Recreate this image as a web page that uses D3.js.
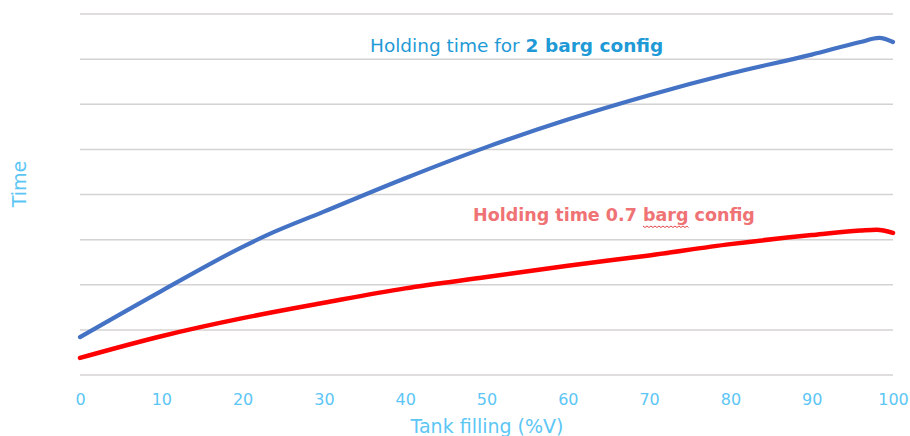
<!DOCTYPE html>
<html>
<head>
<meta charset="utf-8">
<script src="https://cdn.jsdelivr.net/npm/d3@7"></script>
<style>
  html, body { margin: 0; padding: 0; background: #fff; }
  svg { display: block; font-family: "DejaVu Sans", sans-serif; }
</style>
</head>
<body>
<svg id="chart" width="910" height="436"></svg>
<script>
// Holding time vs. tank filling for the two pressure configurations
const xTicks = [0, 10, 20, 30, 40, 50, 60, 70, 80, 90, 100];
const yGrid = [0, 1, 2, 3, 4, 5, 6, 7, 8];

const fill2barg = [0, 10, 20, 23, 30, 40, 50, 60, 70, 80, 90, 96, 98.3, 100];
const time2barg = [0.84, 1.86, 2.84, 3.1, 3.62, 4.36, 5.05, 5.66, 6.2, 6.68, 7.1, 7.38, 7.47, 7.38];

const fill07barg = [0, 10, 20, 30, 40, 50, 60, 70, 80, 90, 96, 98, 100];
const time07barg = [0.38, 0.86, 1.26, 1.6, 1.92, 2.17, 2.42, 2.65, 2.9, 3.1, 3.2, 3.22, 3.15];

const svg = d3.select("#chart");
const x = d3.scaleLinear().domain([0, 100]).range([80, 893]);
const y = d3.scaleLinear().domain([0, 8]).range([375, 14]);

// horizontal gridlines
svg.append("g")
  .selectAll("line")
  .data(yGrid)
  .join("line")
  .attr("x1", x(0)).attr("x2", x(100))
  .attr("y1", d => y(d)).attr("y2", d => y(d))
  .attr("stroke", "#d4d2d2")
  .attr("stroke-width", 1.5);

// x axis labels (no domain line, no tick marks)
const xAxis = svg.append("g")
  .attr("transform", `translate(0,${y(0)})`)
  .call(d3.axisBottom(x).tickValues(xTicks).tickSize(0).tickPadding(19).tickFormat(d3.format("d")));
xAxis.select(".domain").remove();
xAxis.selectAll("text")
  .attr("fill", "#5cc6f5")
  .attr("font-size", 16)
  .style("font-family", "'DejaVu Sans', sans-serif");

// axis titles
svg.append("text")
  .attr("x", 487).attr("y", 433)
  .attr("text-anchor", "middle")
  .attr("fill", "#5cc6f5")
  .attr("font-size", 19)
  .text("Tank filling (%V)");

svg.append("text")
  .attr("transform", "translate(26,184) rotate(-90)")
  .attr("text-anchor", "middle")
  .attr("fill", "#5cc6f5")
  .attr("font-size", 19)
  .text("Time");

const line = d3.line()
  .x(d => x(d[0]))
  .y(d => y(d[1]))
  .curve(d3.curveMonotoneX);

svg.append("path")
  .datum(d3.zip(fill07barg, time07barg))
  .attr("d", line)
  .attr("fill", "none")
  .attr("stroke", "#ff0000")
  .attr("stroke-width", 4.5)
  .attr("stroke-linecap", "round");

svg.append("path")
  .datum(d3.zip(fill2barg, time2barg))
  .attr("d", line)
  .attr("fill", "none")
  .attr("stroke", "#4472c4")
  .attr("stroke-width", 4.2)
  .attr("stroke-linecap", "round");

// series annotations
const blueLabel = svg.append("text")
  .attr("x", 370).attr("y", 52)
  .attr("fill", "#1f9ad6")
  .attr("font-size", 18.5);
blueLabel.append("tspan").text("Holding time for ");
blueLabel.append("tspan").attr("font-weight", "bold").text("2 barg config");

const redLabel = svg.append("text")
  .attr("x", 473).attr("y", 221)
  .attr("fill", "#ef7274")
  .attr("font-size", 17.5)
  .attr("font-weight", "bold");
redLabel.append("tspan").text("Holding time 0.7 ");
redLabel.append("tspan").text("barg");
redLabel.append("tspan").text(" config");

// wavy underline beneath "barg"
const textNode = redLabel.node();
const full = textNode.textContent;
const start = full.indexOf("barg");
const x0 = textNode.getStartPositionOfChar(start).x;
const x1 = textNode.getEndPositionOfChar(start + 3).x;
const waveY = 226;
const wave = d3.path();
wave.moveTo(x0, waveY);
for (let px = x0, i = 0; px < x1; px += 2, i++) {
  wave.lineTo(Math.min(px + 2, x1), waveY + (i % 2 === 0 ? 1.5 : 0));
}
svg.append("path")
  .attr("d", wave.toString())
  .attr("fill", "none")
  .attr("stroke", "#e03030")
  .attr("stroke-width", 0.9);
</script>
</body>
</html>
